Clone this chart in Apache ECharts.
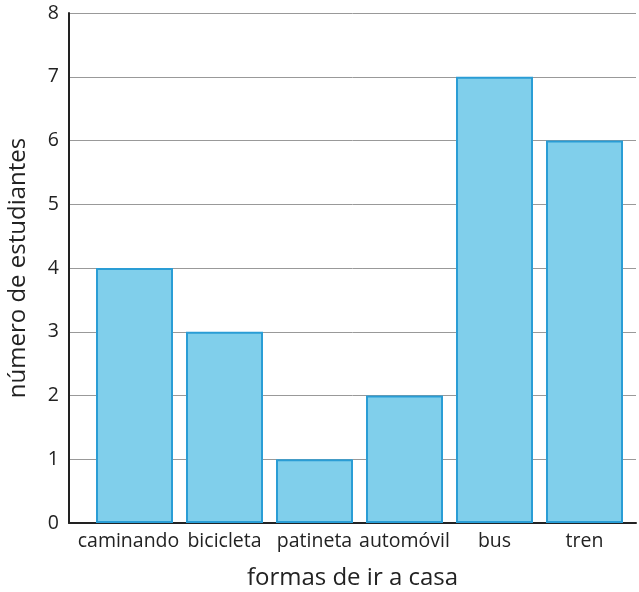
<!DOCTYPE html>
<html><head><meta charset="utf-8">
<script src="https://cdn.jsdelivr.net/npm/echarts@6/dist/echarts.min.js"></script>
<style>html,body{margin:0;padding:0;background:#fff}#c{width:639px;height:592px}</style>
</head><body><div id="c"></div>
<script>
const categories = ['caminando','bicicleta','patineta','automóvil','bus','tren'];
const values = [4,3,1,2,7,6];
const yTicks = [0,1,2,3,4,5,6,7,8];
const xTitle = 'formas de ir a casa';
const yTitle = 'número de estudiantes';

const chart = echarts.init(document.getElementById('c'));
const font = '"Open Sans", "Noto Sans", sans-serif';
chart.setOption({
  animation: false,
  grid: [
    {left: 69, right: 3, top: 13, bottom: 69, outerBoundsMode: 'none', containLabel: false},
    {left: 89.5, right: 9.5, top: 13, bottom: 69, outerBoundsMode: 'none', containLabel: false}
  ],
  xAxis: [
    {gridIndex: 0, type: 'value', min: 0, max: 1,
     axisLine: {show: true, lineStyle: {color: '#222', width: 2}},
     axisTick: {show: false}, axisLabel: {show: false}, splitLine: {show: false},
     name: xTitle, nameLocation: 'middle', nameGap: 43,
     nameTextStyle: {fontFamily: font, fontSize: 24, color: '#222'}},
    {gridIndex: 1, type: 'category', data: categories,
     axisLine: {show: false}, axisTick: {show: false},
     axisLabel: {fontFamily: font, fontSize: 19.5, color: '#222', margin: 8, interval: 0,
       formatter: (v, i) => i === 0 ? '{a|' + v + '}' : v,
       rich: {a: {fontFamily: font, fontSize: 19.5, color: '#222', padding: [0, 12, 0, 0]}}}}
  ],
  yAxis: [
    {gridIndex: 0, type: 'value', min: yTicks[0], max: yTicks[yTicks.length-1], interval: 1,
     axisLine: {show: true, lineStyle: {color: '#222', width: 2}},
     axisTick: {show: false},
     axisLabel: {fontFamily: font, fontSize: 19.5, color: '#222', margin: 10},
     splitLine: {show: true, lineStyle: {color: '#999', width: 1}},
     name: yTitle, nameLocation: 'middle', nameGap: 39,
     nameTextStyle: {fontFamily: font, fontSize: 24, color: '#222'}},
    {gridIndex: 1, type: 'value', min: 0, max: 8, interval: 1, show: false}
  ],
  series: [{
    type: 'bar', xAxisIndex: 1, yAxisIndex: 1, data: values,
    barWidth: 77,
    itemStyle: {color: '#80CFEB', borderColor: '#2A9DD5', borderWidth: 2}
  }]
});
</script></body></html>
